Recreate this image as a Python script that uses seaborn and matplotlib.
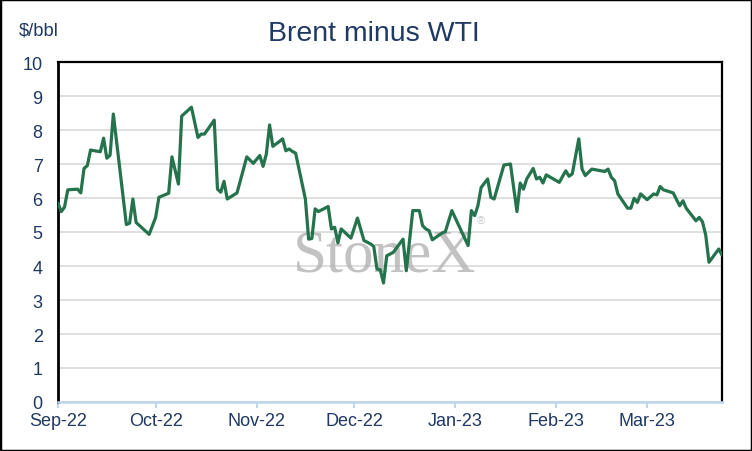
import matplotlib
matplotlib.use("Agg")
import matplotlib.pyplot as plt
import matplotlib.dates as mdates
from matplotlib.patches import Rectangle
import seaborn as sns
import pandas as pd

dates = [
    "2022-09-01", "2022-09-02", "2022-09-03", "2022-09-04", "2022-09-07", "2022-09-08",
    "2022-09-09", "2022-09-10", "2022-09-11", "2022-09-14", "2022-09-15", "2022-09-16",
    "2022-09-17", "2022-09-18", "2022-09-22", "2022-09-23", "2022-09-24", "2022-09-25",
    "2022-09-29", "2022-10-01", "2022-10-02", "2022-10-05", "2022-10-06", "2022-10-08",
    "2022-10-09", "2022-10-12", "2022-10-14", "2022-10-15", "2022-10-16", "2022-10-19",
    "2022-10-20", "2022-10-21", "2022-10-22", "2022-10-23", "2022-10-26", "2022-10-29",
    "2022-10-31", "2022-11-02", "2022-11-03", "2022-11-04", "2022-11-05", "2022-11-06",
    "2022-11-08", "2022-11-09", "2022-11-10", "2022-11-11", "2022-11-12", "2022-11-13",
    "2022-11-16", "2022-11-17", "2022-11-18", "2022-11-19", "2022-11-20", "2022-11-23",
    "2022-11-24", "2022-11-25", "2022-11-26", "2022-11-27", "2022-11-30", "2022-12-02",
    "2022-12-04", "2022-12-06", "2022-12-07", "2022-12-08", "2022-12-09", "2022-12-10",
    "2022-12-11", "2022-12-13", "2022-12-16", "2022-12-17", "2022-12-19", "2022-12-21",
    "2022-12-22", "2022-12-23", "2022-12-24", "2022-12-25", "2022-12-28", "2022-12-29",
    "2022-12-31", "2023-01-05", "2023-01-06", "2023-01-07", "2023-01-08", "2023-01-09",
    "2023-01-11", "2023-01-12", "2023-01-13", "2023-01-16", "2023-01-18", "2023-01-20",
    "2023-01-21", "2023-01-22", "2023-01-23", "2023-01-25", "2023-01-26", "2023-01-27",
    "2023-01-28", "2023-01-29", "2023-02-02", "2023-02-04", "2023-02-05", "2023-02-06",
    "2023-02-08", "2023-02-09", "2023-02-10", "2023-02-12", "2023-02-16", "2023-02-17",
    "2023-02-18", "2023-02-19", "2023-02-20", "2023-02-23", "2023-02-24", "2023-02-25",
    "2023-02-26", "2023-02-27", "2023-03-01", "2023-03-03", "2023-03-04", "2023-03-05",
    "2023-03-06", "2023-03-09", "2023-03-11", "2023-03-12", "2023-03-13", "2023-03-16",
    "2023-03-17", "2023-03-18", "2023-03-19", "2023-03-20", "2023-03-23", "2023-03-24",
]

spread = [
    5.85, 5.60, 5.73, 6.24, 6.26, 6.15,
    6.87, 6.95, 7.41, 7.36, 7.76, 7.17,
    7.26, 8.47, 5.22, 5.26, 5.97, 5.28,
    4.93, 5.43, 6.02, 6.14, 7.21, 6.41,
    8.41, 8.67, 7.78, 7.88, 7.88, 8.29,
    6.26, 6.17, 6.49, 5.97, 6.15, 7.21,
    7.02, 7.25, 6.93, 7.29, 8.15, 7.52,
    7.66, 7.74, 7.39, 7.44, 7.37, 7.32,
    5.97, 4.79, 4.81, 5.68, 5.60, 5.75,
    5.09, 5.14, 4.68, 5.09, 4.82, 5.41,
    4.75, 4.65, 4.58, 3.91, 3.89, 3.50,
    4.30, 4.40, 4.79, 3.86, 5.63, 5.63,
    5.19, 5.09, 5.04, 4.77, 4.97, 5.01,
    5.63, 4.60, 5.63, 5.48, 5.77, 6.31,
    6.56, 6.02, 5.97, 6.97, 7.00, 5.60,
    6.44, 6.26, 6.56, 6.87, 6.56, 6.61,
    6.44, 6.68, 6.46, 6.80, 6.64, 6.71,
    7.74, 6.85, 6.66, 6.85, 6.78, 6.85,
    6.61, 6.51, 6.12, 5.70, 5.70, 5.99,
    5.87, 6.12, 5.95, 6.12, 6.09, 6.34,
    6.24, 6.15, 5.77, 5.92, 5.70, 5.33,
    5.43, 5.30, 4.91, 4.11, 4.50, 4.32,
]

y_ticks = [0, 1, 2, 3, 4, 5, 6, 7, 8, 9, 10]
month_ticks = ["2022-09-01", "2022-10-01", "2022-11-01", "2022-12-01",
               "2023-01-01", "2023-02-01", "2023-03-01"]
title = "Brent minus WTI"
unit_label = "$/bbl"
watermark = "StoneX"

df = pd.DataFrame({"date": pd.to_datetime(dates), "spread": spread})

sns.set_theme(style="white")
plt.rcParams["font.family"] = ["Liberation Sans", "DejaVu Sans"]

navy = "#1f3864"
green = "#24734c"

fig = plt.figure(figsize=(7.52, 4.52), dpi=100)
ax = fig.add_axes([58 / 752, 1 - 403 / 452, (722 - 58) / 752, (403 - 63) / 452])

ax.text(0.492, 0.43, watermark, transform=ax.transAxes, ha="center", va="center",
        fontsize=44, family=["Liberation Serif", "DejaVu Serif"], color="#b3b3b3",
        alpha=0.8, zorder=1)
ax.text(0.637, 0.535, "®", transform=ax.transAxes, ha="center", va="center",
        fontsize=8, color="#c8c8c8", zorder=1)

sns.lineplot(data=df, x="date", y="spread", ax=ax, color=green, linewidth=2.3, zorder=3)

ax.set_ylim(0, 10)
ax.set_yticks(y_ticks)
ax.set_xlim(pd.Timestamp("2022-09-01"), pd.Timestamp("2023-03-24"))
ax.set_xticks(pd.to_datetime(month_ticks))
ax.xaxis.set_major_formatter(mdates.DateFormatter("%b-%y"))
ax.set_xlabel("")
ax.set_ylabel("")

ax.grid(axis="y", color="#d9d9d9", linewidth=1.2, zorder=0)
ax.grid(axis="x", visible=False)
ax.set_axisbelow(True)

for side in ["left", "top", "right"]:
    ax.spines[side].set_color("black")
    ax.spines[side].set_linewidth(1.6)
ax.spines["left"].set_linewidth(2.0)
ax.spines["bottom"].set_color("#bdd7ee")
ax.spines["bottom"].set_linewidth(1.8)
ax.spines["bottom"].set_zorder(4)

ax.tick_params(axis="y", length=0, pad=11, labelsize=13, labelcolor=navy)
ax.tick_params(axis="x", length=4, width=1.5, color="#bdd7ee", pad=3,
               labelsize=13, labelcolor=navy, bottom=True)

fig.text(268 / 752, 1 - 34 / 452, title, ha="left", va="center", fontsize=20.5, color=navy)
fig.text(19 / 752, 1 - 31 / 452, unit_label, ha="left", va="center", fontsize=13.2, color=navy)

fig.patches.append(Rectangle((0, 0), 1, 1, transform=fig.transFigure, fill=False,
                             edgecolor="black", linewidth=2.5))

fig.savefig("out.png", dpi=100)
